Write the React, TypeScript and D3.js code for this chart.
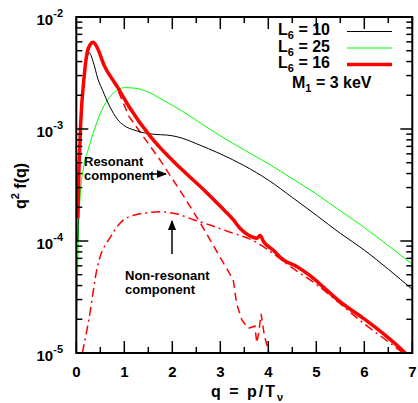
import React from 'react';
import * as d3 from 'd3';

// q values and q^2 f(q)
const qL10 = [0.03, 0.08, 0.15, 0.22, 0.27, 0.35, 0.45, 0.55, 0.7, 0.85, 1.0, 1.2, 1.5, 2.0, 2.2, 2.5, 3.0, 3.5, 4.0, 4.5, 5.0, 5.5, 6.0, 6.5, 7.0];
const fL10 = [1.0e-4, 7.9e-4, 2.5e-3, 4.2e-3, 4.8e-3, 4.0e-3, 2.8e-3, 2.2e-3, 1.58e-3, 1.23e-3, 1.07e-3, 9.8e-4, 9.1e-4, 8.7e-4, 8.3e-4, 7.4e-4, 6.0e-4, 4.7e-4, 3.5e-4, 2.45e-4, 1.7e-4, 1.17e-4, 8.3e-5, 5.6e-5, 3.7e-5];

const qL25 = [0.01, 0.04, 0.08, 0.15, 0.25, 0.35, 0.5, 0.65, 0.8, 1.0, 1.2, 1.5, 1.8, 2.2, 2.6, 3.0, 3.5, 4.0, 4.5, 5.0, 5.5, 6.0, 6.5, 7.0];
const fL25 = [2.0e-5, 1.0e-4, 2.5e-4, 4.5e-4, 6.6e-4, 9.1e-4, 1.38e-3, 1.82e-3, 2.14e-3, 2.34e-3, 2.32e-3, 2.14e-3, 1.82e-3, 1.45e-3, 1.12e-3, 8.7e-4, 6.5e-4, 4.9e-4, 3.6e-4, 2.63e-4, 1.86e-4, 1.32e-4, 9.1e-5, 6.2e-5];

const qL16 = [0.03, 0.06, 0.09, 0.16, 0.23, 0.3, 0.35, 0.42, 0.58, 0.85, 1.1, 1.55, 2.0, 2.66, 3.0, 3.27, 3.41, 3.6, 3.76, 3.83, 3.9, 4.1, 4.31, 4.6, 4.87, 5.2, 5.46, 5.98, 6.47, 6.85, 7.0];
const fL16 = [1.6e-4, 5.0e-4, 1.1e-3, 2.85e-3, 4.9e-3, 5.75e-3, 5.95e-3, 5.5e-3, 3.7e-3, 2.4e-3, 1.58e-3, 8.5e-4, 5.25e-4, 2.85e-4, 2.04e-4, 1.55e-4, 1.3e-4, 1.12e-4, 1.06e-4, 1.12e-4, 9.9e-5, 8.3e-5, 6.8e-5, 5.9e-5, 4.9e-5, 3.7e-5, 2.95e-5, 2.04e-5, 1.4e-5, 1.0e-5, 8.5e-6];

const qRes = [0.03, 0.06, 0.09, 0.16, 0.23, 0.3, 0.35, 0.42, 0.58, 0.85, 1.1, 1.75, 2.24, 2.6, 3.0, 3.27, 3.34, 3.45, 3.58, 3.72, 3.76, 3.8, 3.85, 3.92, 4.0, 4.05];
const fRes = [1.6e-4, 5.0e-4, 1.1e-3, 2.85e-3, 4.9e-3, 5.75e-3, 5.95e-3, 5.45e-3, 3.65e-3, 2.3e-3, 1.29e-3, 5.25e-4, 2.5e-4, 1.41e-4, 7.1e-5, 4.5e-5, 2.75e-5, 1.97e-5, 1.66e-5, 1.74e-5, 1.23e-5, 1.51e-5, 2.24e-5, 1.41e-5, 1.07e-5, 6.3e-6];

const qNonRes = [0.125, 0.26, 0.44, 0.72, 0.99, 1.3, 1.74, 2.1, 2.44, 2.8, 3.2, 3.7, 4.0, 4.5, 5.0, 5.5, 6.0, 6.5, 6.9];
const fNonRes = [1.0e-5, 1.97e-5, 5.9e-5, 1.1e-4, 1.55e-4, 1.74e-4, 1.82e-4, 1.74e-4, 1.55e-4, 1.38e-4, 1.2e-4, 1.0e-4, 8.3e-5, 5.75e-5, 4.1e-5, 2.75e-5, 1.82e-5, 1.26e-5, 9.3e-6];

const xTicks = [0, 1, 2, 3, 4, 5, 6, 7];
const yExps = [-5, -4, -3, -2];
const legendLabels = ['10', '25', '16'];
const legendColors = ['#000', '#00ff00', '#ff0000'];

const W = 418;
const H = 403;
const left = 76.3;
const right = 412.3;
const top = 17;
const bottom = 353;
const font = '"Liberation Sans", Arial, Helvetica, sans-serif';

export default function App() {
  const x = d3.scaleLinear().domain([0, 7]).range([left, right]);
  const y = d3.scaleLog().domain([1e-5, 1e-2]).range([bottom, top]);

  const mk = (qs: number[], fs: number[], curve: d3.CurveFactory = d3.curveMonotoneX) =>
    d3
      .line<number>()
      .x((_, i) => x(qs[i]))
      .y((_, i) => y(fs[i]))
      .curve(curve)(fs) || '';

  const minorX = d3.range(0.5, 7, 1);
  const minorY: number[] = [];
  for (let e = -5; e < -2; e++) for (let m = 2; m <= 9; m++) minorY.push(m * Math.pow(10, e));

  const ax = { stroke: '#000', strokeWidth: 1.5 };

  return (
    <svg width={W} height={H} style={{ position: 'absolute', left: 0, top: 0, background: '#fff' }} fontFamily={font} fontWeight="bold">
      <defs>
        <clipPath id="plot">
          <rect x={left} y={top} width={right - left} height={bottom - top} />
        </clipPath>
        <marker id="arr" viewBox="0 0 10 10" refX="9" refY="5" markerWidth="7" markerHeight="7" orient="auto">
          <path d="M0,1 L10,5 L0,9 Z" fill="#000" />
        </marker>
      </defs>

      <g clipPath="url(#plot)" fill="none">
        <path d={mk(qNonRes, fNonRes)} stroke="#ff0000" strokeWidth={1.5} strokeDasharray="9,4,2,4" />
        <path d={mk(qRes, fRes, d3.curveLinear)} stroke="#ff0000" strokeWidth={1.5} strokeDasharray="8,5" />
        <path d={mk(qL25, fL25)} stroke="#00ff00" strokeWidth={1} />
        <path d={mk(qL10, fL10)} stroke="#000" strokeWidth={1} />
        <path d={mk(qL16, fL16)} stroke="#ff0000" strokeWidth={3.5} strokeLinejoin="round" />
      </g>

      {/* ticks */}
      {xTicks.map((t) => (
        <g key={'xt' + t}>
          <line x1={x(t)} x2={x(t)} y1={bottom} y2={bottom - 12} {...ax} />
          <line x1={x(t)} x2={x(t)} y1={top} y2={top + 12} {...ax} />
          <text x={x(t)} y={377} textAnchor="middle" fontSize={15}>{t}</text>
        </g>
      ))}
      {minorX.map((t) => (
        <g key={'xm' + t}>
          <line x1={x(t)} x2={x(t)} y1={bottom} y2={bottom - 6} {...ax} />
          <line x1={x(t)} x2={x(t)} y1={top} y2={top + 6} {...ax} />
        </g>
      ))}
      {yExps.map((e) => (
        <g key={'yt' + e}>
          <line x1={left} x2={left + 12} y1={y(Math.pow(10, e))} y2={y(Math.pow(10, e))} {...ax} />
          <line x1={right} x2={right - 12} y1={y(Math.pow(10, e))} y2={y(Math.pow(10, e))} {...ax} />
          <text x={63} y={y(Math.pow(10, e)) + 8} textAnchor="end" fontSize={15}>
            10<tspan fontSize={11} dy={-8}>{e}</tspan>
          </text>
        </g>
      ))}
      {minorY.map((v, i) => (
        <g key={'ym' + i}>
          <line x1={left} x2={left + 6} y1={y(v)} y2={y(v)} {...ax} />
          <line x1={right} x2={right - 6} y1={y(v)} y2={y(v)} {...ax} />
        </g>
      ))}
      <rect x={left} y={top} width={right - left} height={bottom - top} fill="none" stroke="#000" strokeWidth={2} />

      {/* axis titles */}
      <text x={248} y={397} textAnchor="middle" fontSize={16} letterSpacing={2}>
        q = p/T<tspan fontSize={11} dy={4}>ν</tspan>
      </text>
      <text transform="translate(26,186) rotate(-90)" textAnchor="middle" fontSize={16}>
        q<tspan fontSize={11} dy={-7}>2</tspan><tspan dy={7}> f(q)</tspan>
      </text>

      {/* legend */}
      {legendLabels.map((l, i) => (
        <g key={'lg' + l}>
          <text x={330} y={35 + i * 16.5} textAnchor="end" fontSize={16}>
            L<tspan fontSize={11} dy={4}>6</tspan><tspan dy={-4}> = {l}</tspan>
          </text>
          <line
            x1={347}
            x2={392}
            y1={31.5 + i * 16.5}
            y2={31.5 + i * 16.5}
            stroke={legendColors[i]}
            strokeWidth={i === 2 ? 3.5 : 1}
          />
        </g>
      ))}
      <text x={292} y={88} fontSize={16}>
        M<tspan fontSize={11} dy={4}>1</tspan><tspan dy={-4}> = 3 keV</tspan>
      </text>

      {/* annotations */}
      <text x={84} y={166} fontSize={13}>Resonant</text>
      <text x={84} y={179.5} fontSize={13}>component</text>
      <line x1={149} x2={166} y1={174} y2={174} stroke="#000" strokeWidth={1.5} markerEnd="url(#arr)" />
      <text x={125} y={280} fontSize={13}>Non-resonant</text>
      <text x={125} y={293.5} fontSize={13}>component</text>
      <line x1={172} x2={172} y1={254} y2={221} stroke="#000" strokeWidth={1.5} markerEnd="url(#arr)" />
    </svg>
  );
}
